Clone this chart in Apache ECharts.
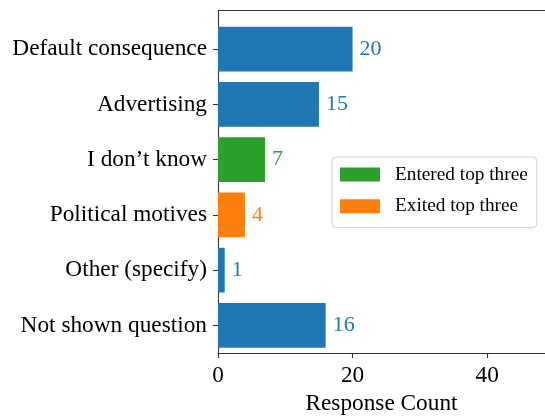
<!DOCTYPE html>
<html>
<head>
<meta charset="utf-8">
<script src="https://cdn.jsdelivr.net/npm/echarts@6/dist/echarts.min.js"></script>
<style>html,body{margin:0;padding:0;background:#fff}#c{width:545px;height:420px}</style>
</head>
<body>
<div id="c"></div>
<script>
var categories = ['Default consequence', 'Advertising', 'I don\u2019t know', 'Political motives', 'Other (specify)', 'Not shown question'];
var baseValues = [20, 15, null, null, 1, 16];
var enteredValues = [null, null, 7, null, null, null];
var exitedValues = [null, null, null, 4, null, null];
var xTicks = [0, 20, 40];
var xMax = 48.6;

var FONT = 'Liberation Serif';
var BLUE = '#1f77b4', GREEN = '#2ca02c', ORANGE = '#ff7f0e';
var lineStyle = {color: '#333', width: 1.1};

function barSeries(name, data, color) {
  return {
    name: name, type: 'bar', stack: 'all', xAxisIndex: 2, yAxisIndex: 1,
    data: data, barWidth: '81%',
    itemStyle: {color: color},
    label: {show: true, position: 'right', distance: 7, color: color,
      fontFamily: FONT, fontSize: 22,
      formatter: function (p) { return p.value; }},
    emphasis: {disabled: true}
  };
}

var chart = echarts.init(document.getElementById('c'));
chart.setOption({
  animation: false,
  textStyle: {fontFamily: FONT},
  grid: [
    {left: 218, right: 0, top: 10.5, bottom: 57},
    {left: 218, right: 0, top: 21.6, bottom: 67}
  ],
  xAxis: [
    {type: 'value', gridIndex: 0, min: 0, max: xMax, interval: 20, position: 'bottom',
      splitLine: {show: false},
      axisLine: {show: true, lineStyle: lineStyle},
      axisTick: {show: true, length: 5, lineStyle: lineStyle, customValues: xTicks},
      axisLabel: {color: '#000', fontFamily: FONT, fontSize: 23.3, margin: 11, customValues: xTicks},
      name: 'Response Count', nameLocation: 'middle', nameGap: 34,
      nameTextStyle: {color: '#000', fontFamily: FONT, fontSize: 23.3}
    },
    {type: 'value', gridIndex: 0, min: 0, max: xMax, position: 'top',
      splitLine: {show: false}, axisTick: {show: false}, axisLabel: {show: false},
      axisLine: {show: true, lineStyle: lineStyle}
    },
    {type: 'value', gridIndex: 1, min: 0, max: xMax, show: false}
  ],
  yAxis: [
    {type: 'value', gridIndex: 0, min: 0, max: 1,
      splitLine: {show: false}, axisTick: {show: false}, axisLabel: {show: false},
      axisLine: {show: true, lineStyle: lineStyle}
    },
    {type: 'category', gridIndex: 1, data: categories, inverse: true,
      axisLine: {show: false},
      axisTick: {show: true, alignWithLabel: true, length: 5, lineStyle: lineStyle},
      axisLabel: {color: '#000', fontFamily: FONT, fontSize: 23.3, margin: 11}
    }
  ],
  legend: {
    data: ['Entered top three', 'Exited top three'],
    orient: 'vertical', left: 332, top: 157,
    itemWidth: 40, itemHeight: 14, itemGap: 12.7,
    padding: [8, 9, 12, 8],
    borderColor: '#d0d0d0', borderWidth: 1, borderRadius: 4,
    backgroundColor: 'rgba(255,255,255,0.8)',
    icon: 'rect',
    selectedMode: false,
    textStyle: {color: '#000', fontFamily: FONT, fontSize: 19.3, lineHeight: 14, padding: [0, 0, 0, 10]}
  },
  series: [
    barSeries('base', baseValues, BLUE),
    barSeries('Entered top three', enteredValues, GREEN),
    barSeries('Exited top three', exitedValues, ORANGE)
  ]
});
</script>
</body>
</html>
